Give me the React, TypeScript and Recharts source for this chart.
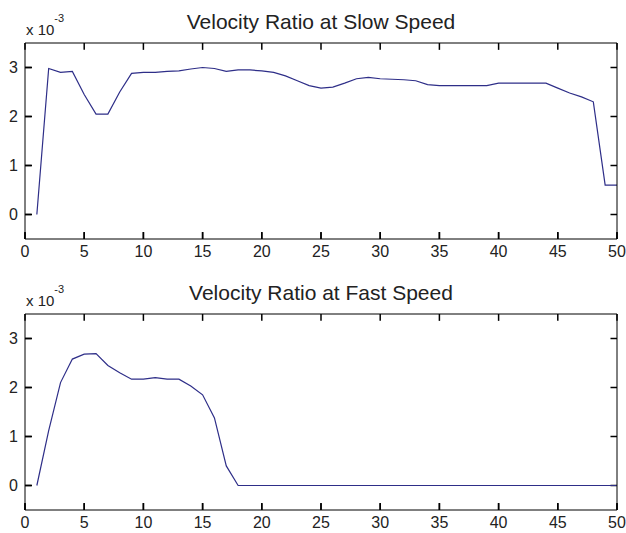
import type { ReactElement } from 'react'
import { LineChart, Line, XAxis, YAxis, ReferenceLine } from 'recharts'

// values are in units of 10^-3, sampled at x = 1..50
const xs = Array.from({ length: 50 }, (_, i) => i + 1)

const slowSpeed = [
  0, 2.98, 2.9, 2.92, 2.45, 2.05, 2.05, 2.5, 2.88, 2.9,
  2.9, 2.92, 2.93, 2.97, 3.0, 2.98, 2.92, 2.95, 2.95, 2.93,
  2.9, 2.83, 2.73, 2.63, 2.58, 2.6, 2.68, 2.77, 2.8, 2.77,
  2.76, 2.75, 2.73, 2.65, 2.63, 2.63, 2.63, 2.63, 2.63, 2.68,
  2.68, 2.68, 2.68, 2.68, 2.58, 2.48, 2.4, 2.3, 0.6, 0.6,
]

const fastSpeed = [
  0, 1.12, 2.1, 2.58, 2.68, 2.69, 2.45, 2.3, 2.17, 2.17,
  2.2, 2.17, 2.17, 2.03, 1.85, 1.38, 0.4, 0, 0, 0,
  0, 0, 0, 0, 0, 0, 0, 0, 0, 0,
  0, 0, 0, 0, 0, 0, 0, 0, 0, 0,
  0, 0, 0, 0, 0, 0, 0, 0, 0, 0,
]

const xTicks = [0, 5, 10, 15, 20, 25, 30, 35, 40, 45, 50]
const yTicks = [0, 1, 2, 3]
const X_DOMAIN = [0, 50]
const Y_DOMAIN = [-0.5, 3.5]

const LINE_COLOR = '#2e2e88'
const TEXT_COLOR = '#222'
const FONT = '"Liberation Sans", Arial, sans-serif'
const W = 626
const H = 261
const TICK_LEN = 7
// same inward tick length expressed in data units
const TICK_DX = 0.55
const TICK_DY = 0.14

const BottomTick = ({ x, y, payload }: any) => (
  <g>
    <path d={`M${x},${y}L${x},${Number(y) - TICK_LEN}`} stroke="#000" strokeWidth={1.5} />
    <text x={x} y={Number(y) + 7} dy="0.71em" textAnchor="middle" fontSize={16} fill={TEXT_COLOR} fontFamily={FONT}>
      {payload.value}
    </text>
  </g>
)

const LeftTick = ({ x, y, payload }: any) => (
  <g>
    <path d={`M${x},${y}L${Number(x) + TICK_LEN},${y}`} stroke="#000" strokeWidth={1.5} />
    <text x={Number(x) - 7} y={y} dy="0.36em" textAnchor="end" fontSize={16} fill={TEXT_COLOR} fontFamily={FONT}>
      {payload.value}
    </text>
  </g>
)

interface PanelProps {
  title: string
  values: number[]
  top: number
}

// One subplot: boxed axes with inward ticks on all four sides
function Panel({ title, values, top }: PanelProps): ReactElement {
  const data = xs.map((x, i) => ({ x, v: values[i] }))
  const [x0, x1] = X_DOMAIN
  const [y0, y1] = Y_DOMAIN
  return (
    <div style={{ position: 'absolute', left: 0, top, width: W, height: H }}>
      <LineChart width={W} height={H} data={data} margin={{ top: 42, right: 8, left: 0, bottom: 0 }}>
        <XAxis
          dataKey="x"
          type="number"
          domain={X_DOMAIN}
          ticks={xTicks}
          height={22}
          tickSize={0}
          tickMargin={0}
          stroke="#000"
          tickLine={false}
          tick={BottomTick}
          interval={0}
        />
        <XAxis
          xAxisId="top"
          orientation="top"
          dataKey="x"
          type="number"
          domain={X_DOMAIN}
          ticks={xTicks}
          height={1}
          stroke="#000"
          tickLine={false}
          tick={false}
        />
        <YAxis
          type="number"
          domain={Y_DOMAIN}
          ticks={yTicks}
          width={25}
          tickSize={0}
          tickMargin={0}
          stroke="#000"
          tickLine={false}
          tick={LeftTick}
          interval={0}
        />
        <YAxis
          yAxisId="right"
          orientation="right"
          type="number"
          domain={Y_DOMAIN}
          ticks={yTicks}
          width={1}
          stroke="#000"
          tickLine={false}
          tick={false}
        />
        {/* tick marks along the top edge */}
        {xTicks.map((t) => (
          <ReferenceLine
            key={`t${t}`}
            segment={[{ x: t, y: y1 }, { x: t, y: y1 - TICK_DY }]}
            stroke="#000"
            strokeWidth={1.5}
            ifOverflow="visible"
          />
        ))}
        {/* tick marks along the right edge */}
        {yTicks.map((t) => (
          <ReferenceLine
            key={`r${t}`}
            segment={[{ x: x1, y: t }, { x: x1 - TICK_DX, y: t }]}
            stroke="#000"
            strokeWidth={1.5}
            ifOverflow="visible"
          />
        ))}
        {/* extra bottom/left marks through the data scales as well */}
        {xTicks.map((t) => (
          <ReferenceLine
            key={`b${t}`}
            segment={[{ x: t, y: y0 }, { x: t, y: y0 + TICK_DY }]}
            stroke="#000"
            strokeWidth={1.5}
            ifOverflow="visible"
          />
        ))}
        {yTicks.map((t) => (
          <ReferenceLine
            key={`l${t}`}
            segment={[{ x: x0, y: t }, { x: x0 + TICK_DX, y: t }]}
            stroke="#000"
            strokeWidth={1.5}
            ifOverflow="visible"
          />
        ))}
        {/* invisible copy so the top/right box axes get registered */}
        <Line
          xAxisId="top"
          yAxisId="right"
          dataKey="v"
          stroke="none"
          dot={false}
          legendType="none"
          isAnimationActive={false}
        />
        <Line
          dataKey="v"
          stroke={LINE_COLOR}
          strokeWidth={1.2}
          dot={false}
          isAnimationActive={false}
        />
      </LineChart>
      <svg
        width={W}
        height={45}
        style={{ position: 'absolute', left: 0, top: 0, pointerEvents: 'none' }}
      >
        <text x={321} y={29} textAnchor="middle" fontSize={21} fill={TEXT_COLOR} fontFamily={FONT}>
          {title}
        </text>
        <text x={26} y={35} fontSize={15} fill={TEXT_COLOR} fontFamily={FONT}>
          x 10
          <tspan dy={-13} fontSize={11}>-3</tspan>
        </text>
      </svg>
    </div>
  )
}

export default function App(): ReactElement {
  return (
    <div
      style={{
        position: 'absolute',
        left: 0,
        top: 0,
        width: W,
        height: 533,
        overflow: 'hidden',
        background: '#fff',
      }}
    >
      <Panel title="Velocity Ratio at Slow Speed" values={slowSpeed} top={0} />
      <Panel title="Velocity Ratio at Fast Speed" values={fastSpeed} top={271} />
    </div>
  )
}
